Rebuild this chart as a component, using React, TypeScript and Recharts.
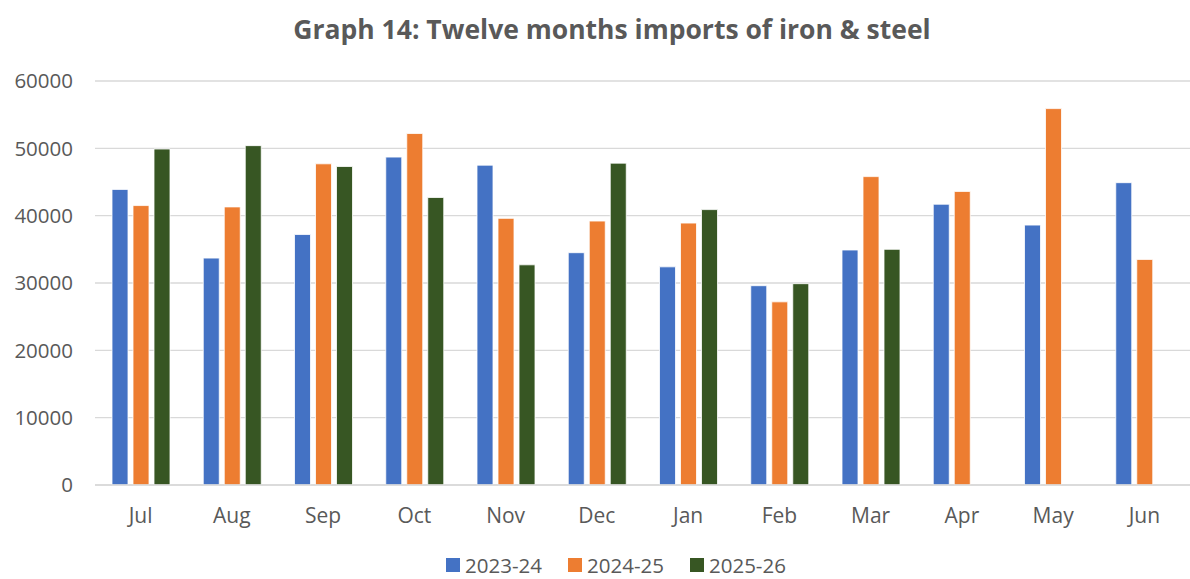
import React from "react";
import { BarChart, Bar, XAxis, YAxis, CartesianGrid, Legend } from "recharts";

const months = ["Jul", "Aug", "Sep", "Oct", "Nov", "Dec", "Jan", "Feb", "Mar", "Apr", "May", "Jun"];
const s2023_24 = [43900, 33700, 37200, 48700, 47500, 34500, 32400, 29600, 34900, 41700, 38600, 44900];
const s2024_25 = [41500, 41300, 47700, 52200, 39600, 39200, 38900, 27200, 45800, 43600, 55900, 33500];
const s2025_26: (number | null)[] = [49900, 50400, 47300, 42700, 32700, 47800, 40900, 29900, 35000, null, null, null];
const yTicks = [0, 10000, 20000, 30000, 40000, 50000, 60000];

const seriesNames = ["2023-24", "2024-25", "2025-26"];
const colors = ["#4472C4", "#ED7D31", "#375623"];

const data = months.map((m, i) => ({
  month: m,
  a: s2023_24[i],
  b: s2024_25[i],
  c: s2025_26[i],
}));

const FONT = "'Open Sans', 'Liberation Sans', sans-serif";
const TEXT = "#595959";

const LegendContent = () => (
  <div
    style={{
      display: "flex",
      justifyContent: "center",
      alignItems: "center",
      height: 44,
      boxSizing: "border-box",
      paddingTop: 16,
      fontFamily: FONT,
      fontSize: 20.5,
      lineHeight: "28px",
      color: TEXT,
      paddingLeft: 42,
    }}
  >
    {seriesNames.map((n, i) => (
      <div key={n} style={{ display: "flex", alignItems: "center", height: 28, marginRight: i < 2 ? 26 : 0 }}>
        <span style={{ display: "inline-block", width: 14, height: 14, background: colors[i], marginRight: 5 }} />
        <span>{n}</span>
      </div>
    ))}
  </div>
);

export default function App() {
  return (
    <div style={{ position: "absolute", left: 0, top: 0, width: 1190, height: 579, background: "#fff" }}>
      <div
        style={{
          position: "absolute",
          top: 11,
          left: 0,
          width: 1224,
          textAlign: "center",
          fontFamily: FONT,
          fontWeight: 700,
          fontSize: 26.5,
          color: TEXT,
          lineHeight: "36px",
        }}
      >
        Graph 14: Twelve months imports of iron &amp; steel
      </div>
      <BarChart
        width={1190}
        height={579}
        data={data}
        margin={{ top: 81, right: 0, left: 0, bottom: 0 }}
        barSize={16}
        barGap={5}
      >
        <CartesianGrid vertical={false} stroke="#D9D9D9" strokeWidth={1.3} />
        <XAxis
          dataKey="month"
          height={50}
          tickLine={false}
          axisLine={{ stroke: "#D9D9D9", strokeWidth: 1.3 }}
          tickSize={0}
          tickMargin={23}
          tick={{ fill: TEXT, fontSize: 21, fontFamily: FONT }}
        />
        <YAxis
          width={95}
          domain={[0, 60000]}
          ticks={yTicks}
          axisLine={false}
          tickLine={false}
          tickSize={0}
          tickMargin={22}
          tick={{ fill: TEXT, fontSize: 20.5, fontFamily: FONT }}
        />
        <Legend verticalAlign="bottom" height={44} content={<LegendContent />} />
        <Bar dataKey="a" name={seriesNames[0]} fill={colors[0]} stroke="#fff" strokeWidth={0.8} isAnimationActive={false} />
        <Bar dataKey="b" name={seriesNames[1]} fill={colors[1]} stroke="#fff" strokeWidth={0.8} isAnimationActive={false} />
        <Bar dataKey="c" name={seriesNames[2]} fill={colors[2]} stroke="#fff" strokeWidth={0.8} isAnimationActive={false} />
      </BarChart>
    </div>
  );
}
